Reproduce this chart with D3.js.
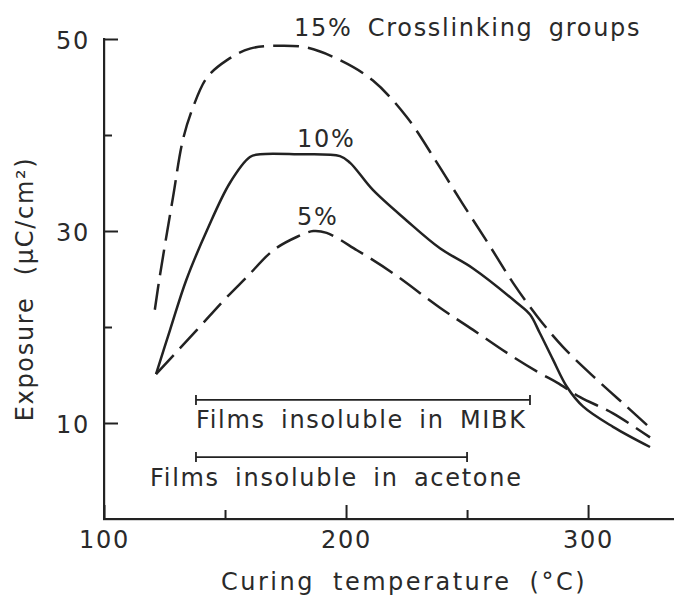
<!DOCTYPE html>
<html>
<head>
<meta charset="utf-8">
<script src="https://cdn.jsdelivr.net/npm/d3@7"></script>
<style>
  html, body { margin: 0; padding: 0; background: #fff; }
  svg text { font-family: "DejaVu Sans", sans-serif; fill: #2a2a2a; letter-spacing: 1.7px; word-spacing: 6px; }
</style>
</head>
<body>
<svg id="chart" width="674" height="597"></svg>
<script>
// Curing temperature (°C) vs. exposure dose (µC/cm²) for three crosslinker levels
const temp15 = [121, 123, 128.5, 132.6, 136.8, 142.6, 150.8, 160.3, 172.7, 183.9, 197.5, 211, 225, 237.6, 248, 259, 269, 279, 289.7, 303.7, 316, 325.6];
const dose15 = [21.8, 25.2, 33.5, 39.5, 42.9, 46, 47.8, 49, 49.3, 49.1, 47.8, 45.7, 41.9, 37.1, 32.9, 28.6, 24.6, 21.1, 17.9, 14.5, 11.7, 9.5];

const temp10 = [121.5, 127.3, 134, 142.6, 152, 160.3, 164.5, 180, 197.5, 201.7, 211, 225, 238.8, 252.5, 270.7, 276, 280, 285.5, 291.3, 298, 310.3, 325.6];
const dose10 = [15.1, 19.7, 24.9, 30.1, 35, 37.7, 38, 38, 37.8, 37.1, 34.3, 31.1, 28.2, 26.1, 22.5, 21.3, 19.4, 16.6, 13.75, 11.7, 9.6, 7.5];

const temp5 = [121.5, 138.4, 149.6, 159, 170, 179.8, 186.5, 192, 204.5, 219.4, 238.8, 252.5, 266.5, 280, 287.2, 296.7, 310.3, 325.6];
const dose5 = [15.1, 19.7, 22.8, 25.2, 28, 29.4, 30, 29.8, 28, 25.6, 22, 19.7, 17.3, 15.2, 14.2, 12.7, 11, 8.5];

const seriesNames = ["15% Crosslinking groups", "10%", "5%"];

// Insolubility ranges (°C)
const mibkRange = [138, 276];
const acetoneRange = [138, 250];
const rangeLabels = ["Films insoluble in MIBK", "Films insoluble in acetone"];

const xMajorTicks = [100, 200, 300];
const xMinorTicks = [150, 250];
const yMajorTicks = [10, 30, 50];
const yMinorTicks = [20, 40];

const xTitle = "Curing temperature  (°C)";
const yTitle = "Exposure  (µC/cm²)";

const svg = d3.select("#chart");
const ink = "#222";

const x = d3.scaleLinear().domain([100, 335.5]).range([104, 674]);
const y = d3.scaleLinear().domain([0, 50]).range([519, 39]);

// Axis spines as thin filled bars
svg.append("rect")
  .attr("x", x(100) - 1).attr("y", y(50) - 1)
  .attr("width", 2.2).attr("height", y(0) - y(50) + 2)
  .attr("fill", ink);
svg.append("rect")
  .attr("x", x(100) - 1).attr("y", y(0) - 1)
  .attr("width", x.range()[1] - x(100) + 1).attr("height", 2.2)
  .attr("fill", ink);

// Ticks and tick labels
const xAxis = svg.append("g").attr("transform", `translate(0,${y(0)})`)
  .call(d3.axisBottom(x).tickValues(xMajorTicks).tickSizeInner(-14).tickSizeOuter(0)
    .tickPadding(12).tickFormat(d3.format("d")));
svg.append("g").attr("transform", `translate(0,${y(0)})`)
  .call(d3.axisBottom(x).tickValues(xMinorTicks).tickSizeInner(-9).tickSizeOuter(0).tickFormat(""));

const yAxis = svg.append("g").attr("transform", `translate(${x(100)},0)`)
  .call(d3.axisLeft(y).tickValues(yMajorTicks).tickSizeInner(-14).tickSizeOuter(0)
    .tickPadding(14).tickFormat(d3.format("d")));
svg.append("g").attr("transform", `translate(${x(100)},0)`)
  .call(d3.axisLeft(y).tickValues(yMinorTicks).tickSizeInner(-8).tickSizeOuter(0).tickFormat(""));

svg.selectAll(".domain").remove();
svg.selectAll(".tick line").attr("stroke", ink).attr("stroke-width", 2);
svg.selectAll(".tick text")
  .attr("font-size", 24)
  .attr("font-family", "DejaVu Sans, sans-serif")
  .attr("fill", "#2a2a2a");
yAxis.selectAll(".tick text").attr("dy", "0.38em");

// Axis titles
svg.append("text")
  .attr("x", 404).attr("y", 590)
  .attr("text-anchor", "middle")
  .attr("font-size", 24)
  .style("letter-spacing", "2.5px")
  .style("word-spacing", "8px")
  .text(xTitle);

svg.append("text")
  .attr("transform", `translate(33,289) rotate(-90)`)
  .attr("text-anchor", "middle")
  .attr("font-size", 24)
  .style("word-spacing", "12px")
  .text(yTitle);

// Curves
const line = d3.line()
  .x(d => x(d[0]))
  .y(d => y(d[1]))
  .curve(d3.curveCatmullRom.alpha(0.5));

const curves = [
  { t: temp15, v: dose15, dash: "26,9" },
  { t: temp10, v: dose10, dash: null },
  { t: temp5, v: dose5, dash: "26,9" }
];

curves.forEach(c => {
  svg.append("path")
    .datum(d3.zip(c.t, c.v))
    .attr("d", line)
    .attr("fill", "none")
    .attr("stroke", ink)
    .attr("stroke-width", 2.5)
    .attr("stroke-linejoin", "round")
    .attr("stroke-dasharray", c.dash);
});

// Curve labels
svg.append("text").attr("x", 294).attr("y", 36).attr("font-size", 24).text(seriesNames[0]);
svg.append("text").attr("x", 297).attr("y", 147).attr("font-size", 24).text(seriesNames[1]);
svg.append("text").attr("x", 297).attr("y", 225).attr("font-size", 24).text(seriesNames[2]);

// Insolubility range bars
function rangeBar(range, level) {
  const g = svg.append("g").attr("stroke", ink).attr("stroke-width", 1.8);
  g.append("line").attr("x1", x(range[0])).attr("x2", x(range[1]))
    .attr("y1", y(level)).attr("y2", y(level));
  range.forEach(r => {
    g.append("line").attr("x1", x(r)).attr("x2", x(r))
      .attr("y1", y(level) - 5).attr("y2", y(level) + 5);
  });
}
rangeBar(mibkRange, 12.4);
rangeBar(acetoneRange, 6.45);

svg.append("text").attr("x", x(mibkRange[0])).attr("y", 428).attr("font-size", 24).text(rangeLabels[0]);
svg.append("text").attr("x", 150).attr("y", 486).attr("font-size", 24).text(rangeLabels[1]);
</script>
</body>
</html>
